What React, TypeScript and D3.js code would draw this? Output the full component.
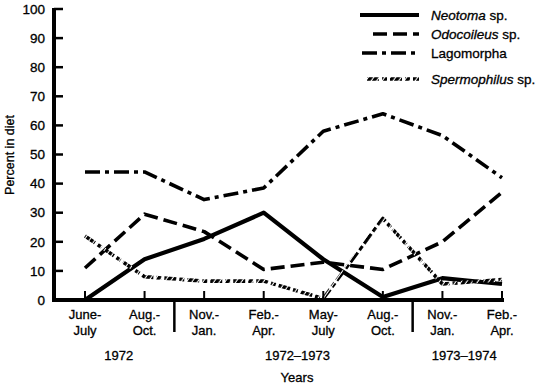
import React from "react";
import * as d3 from "d3";

// Periods along the x axis (two-line labels)
const periodTop = ["June-", "Aug.-", "Nov.-", "Feb.-", "May-", "Aug.-", "Nov.-", "Feb.-"];
const periodBottom = ["July", "Oct.", "Jan.", "Apr.", "July", "Oct.", "Jan.", "Apr."];
const yearLabels = ["1972", "1972–1973", "1973–1974"];
const yearSpans: [number, number][] = [[0, 1], [2, 5], [6, 7]];
const yTicks = [0, 10, 20, 30, 40, 50, 60, 70, 80, 90, 100];

// Percent in diet
const neotoma = [0, 14, 21, 30, 14, 1, 7.5, 5.5];
const odocoileus = [11, 29.5, 23.5, 10.5, 13, 10.5, 20, 37];
const lagomorpha = [44, 44, 34.5, 38.5, 58, 64, 56.5, 42];
const spermophilus = [22, 8, 6.5, 6.5, 0.5, 28, 5.5, 7];

const FONT = "'Liberation Sans', Arial, Helvetica, sans-serif";

const series = [
  { name: "Neotoma", italic: true, values: neotoma, dash: "none", width: 4.2, stroke: "#000" },
  { name: "Odocoileus", italic: true, values: odocoileus, dash: "14 6", width: 3.6, stroke: "#000" },
  { name: "Lagomorpha", italic: false, values: lagomorpha, dash: "15 5 4 5", width: 3.6, stroke: "#000" },
  { name: "Spermophilus", italic: true, values: spermophilus, dash: "12 3 5 3", width: 3.6, stroke: "url(#hatch)" },
];

export default function App() {
  const W = 550;
  const H = 386;
  const x0 = 54;
  const y = d3.scaleLinear().domain([0, 100]).range([300, 9]);
  const x = d3.scalePoint<number>().domain(d3.range(8)).range([85, 502]);
  const line = d3
    .line<number>()
    .x((_, i) => x(i) as number)
    .y((d) => y(d));

  const legendY = [15, 34, 53, 79];
  const legendX0 = [360, 373, 362, 367];
  const textStyle = { stroke: "#000", strokeWidth: 0.3 };

  return (
    <div style={{ position: "absolute", left: 0, top: 0 }}>
      <svg width={W} height={H} style={{ display: "block", background: "#fff" }} fontFamily={FONT}>
        <defs>
          <pattern id="hatch" patternUnits="userSpaceOnUse" width="4.5" height="4.5" patternTransform="rotate(35)">
            <rect width="4.5" height="4.5" fill="#fff" />
            <rect width="3.4" height="4.5" fill="#000" />
          </pattern>
        </defs>

        {/* series */}
        {series.map((s) => (
          <path
            key={s.name}
            d={line(s.values) || ""}
            fill="none"
            stroke={s.stroke}
            strokeWidth={s.width}
            strokeDasharray={s.dash}
            strokeLinejoin="round"
          />
        ))}

        {/* y axis */}
        <line x1={x0} x2={x0} y1={y(100) - 1} y2={y(0) + 2} stroke="#000" strokeWidth={4} />
        {yTicks.map((t) => (
          <g key={t}>
            <line x1={x0} x2={x0 + 9} y1={y(t)} y2={y(t)} stroke="#000" strokeWidth={2.5} />
            <text x={45} y={y(t)} dy="0.35em" textAnchor="end" fontSize={13.5} style={textStyle}>
              {t}
            </text>
          </g>
        ))}
        <text
          transform={`translate(14,${155}) rotate(-90)`}
          textAnchor="middle"
          fontSize={12.5}
          style={textStyle}
        >
          Percent in diet
        </text>

        {/* x axis */}
        <line x1={x0 - 2} x2={504} y1={y(0)} y2={y(0)} stroke="#000" strokeWidth={4} />
        {d3.range(8).map((i) => (
          <g key={i}>
            <line
              x1={x(i) as number}
              x2={x(i) as number}
              y1={y(0)}
              y2={y(0) - 9}
              stroke="#000"
              strokeWidth={2}
            />
            <text x={x(i) as number} y={319} textAnchor="middle" fontSize={13} style={textStyle}>
              {periodTop[i]}
            </text>
            <text x={x(i) as number} y={335} textAnchor="middle" fontSize={13} style={textStyle}>
              {periodBottom[i]}
            </text>
          </g>
        ))}
        {[1, 5].map((i) => {
          const sx = ((x(i) as number) + (x(i + 1) as number)) / 2;
          return <line key={i} x1={sx} x2={sx} y1={y(0)} y2={332} stroke="#000" strokeWidth={2.5} />;
        })}
        {yearLabels.map((lab, k) => {
          const [a, b] = yearSpans[k];
          const cx = ((x(a) as number) + (x(b) as number)) / 2 + (k === 1 ? 4 : k === 2 ? -8 : 4);
          return (
            <text key={lab} x={cx} y={360} textAnchor="middle" fontSize={13} style={textStyle}>
              {lab}
            </text>
          );
        })}
        <text x={297} y={382} textAnchor="middle" fontSize={13} style={textStyle}>
          Years
        </text>

        {/* legend */}
        {series.map((s, k) => (
          <g key={s.name}>
            <line
              x1={legendX0[k]}
              x2={419}
              y1={legendY[k]}
              y2={legendY[k]}
              stroke={s.stroke}
              strokeWidth={s.width}
              strokeDasharray={s.dash}
            />
            <text x={431} y={legendY[k]} dy="0.35em" fontSize={13.5} style={textStyle}>
              <tspan fontStyle={s.italic ? "italic" : "normal"}>{s.name}</tspan>
              {s.italic ? " sp." : ""}
            </text>
          </g>
        ))}
      </svg>
    </div>
  );
}
